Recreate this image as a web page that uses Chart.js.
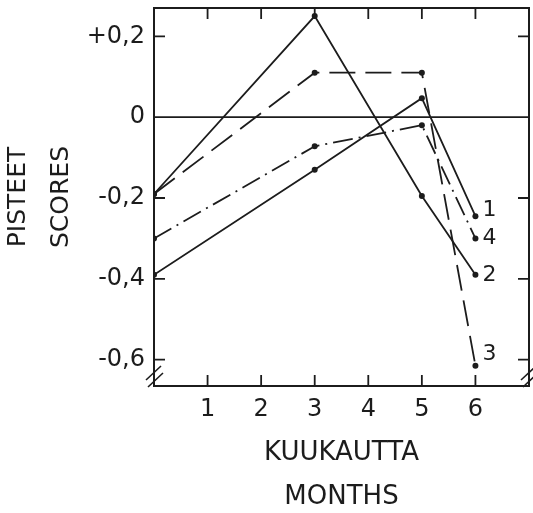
<!DOCTYPE html>
<html>
<head>
<meta charset="utf-8">
<script src="https://cdn.jsdelivr.net/npm/chart.js@4"></script>
<style>
  html, body { margin: 0; padding: 0; background: #fff; }
  #wrap { width: 533px; height: 513px; }
</style>
</head>
<body>
<div id="wrap"><canvas id="chart" width="533" height="513"></canvas></div>
<script>
// months measured
const months = [0, 3, 5, 6];
const series1 = [-0.39, -0.13, 0.047, -0.245];
const series2 = [-0.19, 0.25, -0.195, -0.39];
const series3 = [-0.19, 0.11, 0.11, -0.615];
const series4 = [-0.30, -0.072, -0.02, -0.30];
const seriesNames = ['1', '2', '3', '4'];

const xTicks = [1, 2, 3, 4, 5, 6];
const xTickLabels = ['1', '2', '3', '4', '5', '6'];
const yTicks = [-0.6, -0.4, -0.2, 0, 0.2];
const yTickLabels = ['-0,6', '-0,4', '-0,2', '0', '+0,2'];

const ink = '#1c1c1c';
const fontFamily = '"DejaVu Sans", sans-serif';

function toPoints(values) {
    return months.map((m, i) => ({ x: m, y: values[i] }));
}

function makeSet(label, values, dash) {
    return {
        label: label,
        data: toPoints(values),
        borderColor: ink,
        backgroundColor: ink,
        borderWidth: 1.8,
        borderDash: dash,
        pointRadius: 3,
        pointBorderWidth: 0,
        pointBackgroundColor: ink,
        tension: 0
    };
}

// frame, inward ticks, zero line, break marks, end labels
const decorations = {
    id: 'decorations',
    afterDatasetsDraw(chart) {
        const { ctx, chartArea: a, scales } = chart;
        const x = scales.x, y = scales.y;
        ctx.save();
        ctx.strokeStyle = ink;
        ctx.lineWidth = 2;
        ctx.strokeRect(a.left, a.top, a.right - a.left, a.bottom - a.top);

        // zero line
        ctx.lineWidth = 1.8;
        const y0 = y.getPixelForValue(0);
        ctx.beginPath();
        ctx.moveTo(a.left, y0);
        ctx.lineTo(a.right, y0);
        ctx.stroke();

        const tl = 11;
        ctx.beginPath();
        xTicks.forEach((v) => {
            const px = x.getPixelForValue(v);
            ctx.moveTo(px, a.bottom);
            ctx.lineTo(px, a.bottom - tl);
            ctx.moveTo(px, a.top);
            ctx.lineTo(px, a.top + tl);
        });
        yTicks.forEach((v) => {
            if (v === 0) return;
            const py = y.getPixelForValue(v);
            ctx.moveTo(a.left, py);
            ctx.lineTo(a.left + tl, py);
            ctx.moveTo(a.right, py);
            ctx.lineTo(a.right - tl, py);
        });
        ctx.stroke();

        // axis break marks
        ctx.lineWidth = 1.6;
        [a.left, a.right].forEach((cx) => {
            ctx.beginPath();
            ctx.moveTo(cx - 8, a.bottom - 6);
            ctx.lineTo(cx + 7, a.bottom - 20);
            ctx.moveTo(cx - 6, a.bottom + 1);
            ctx.lineTo(cx + 9, a.bottom - 13);
            ctx.stroke();
        });

        // series labels at the last point
        const offsets = [-6, 0, -12, 0];
        ctx.fillStyle = ink;
        ctx.font = '22px ' + fontFamily;
        ctx.textBaseline = 'middle';
        ctx.textAlign = 'left';
        chart.data.datasets.forEach((ds, i) => {
            const meta = chart.getDatasetMeta(i);
            const pt = meta.data[meta.data.length - 1];
            ctx.fillText(ds.label, pt.x + 7, pt.y + offsets[i]);
        });
        ctx.restore();
    }
};

new Chart(document.getElementById('chart'), {
    type: 'line',
    data: {
        datasets: [
            makeSet(seriesNames[0], series1, []),
            makeSet(seriesNames[1], series2, []),
            makeSet(seriesNames[2], series3, [26, 10]),
            makeSet(seriesNames[3], series4, [20, 6, 2, 6])
        ]
    },
    options: {
        responsive: false,
        animation: false,
        layout: { padding: { top: 8, right: 3, left: 0, bottom: 0 } },
        plugins: {
            legend: { display: false },
            tooltip: { enabled: false }
        },
        scales: {
            x: {
                type: 'linear',
                min: 0,
                max: 7,
                afterBuildTicks: (s) => { s.ticks = xTicks.map((v) => ({ value: v })); },
                afterFit: (s) => {
                    s.height = 127;
                    s.paddingLeft = 0;
                    s.paddingRight = 0;
                },
                grid: { display: false, drawTicks: false },
                border: { display: false },
                ticks: {
                    color: ink,
                    padding: 9,
                    maxRotation: 0,
                    font: { family: fontFamily, size: 24 },
                    callback: (v) => xTickLabels[xTicks.indexOf(v)]
                },
                title: {
                    display: true,
                    text: ['KUUKAUTTA', 'MONTHS'],
                    color: ink,
                    font: { family: fontFamily, size: 26, lineHeight: '44px' },
                    padding: { top: 0, bottom: -6 }
                }
            },
            y: {
                type: 'linear',
                min: -0.665,
                max: 0.27,
                afterBuildTicks: (s) => { s.ticks = yTicks.map((v) => ({ value: v })); },
                afterFit: (s) => {
                    s.width = 154;
                    s.paddingTop = 0;
                    s.paddingBottom = 0;
                },
                grid: { display: false, drawTicks: false },
                border: { display: false },
                ticks: {
                    color: ink,
                    padding: 9,
                    font: { family: fontFamily, size: 24 },
                    callback: (v) => yTickLabels[yTicks.indexOf(v)]
                },
                title: {
                    display: true,
                    text: ['PISTEET', 'SCORES'],
                    color: ink,
                    font: { family: fontFamily, size: 25, lineHeight: '43px' },
                    padding: { top: -3, bottom: 0 }
                }
            }
        }
    },
    plugins: [decorations]
});
</script>
</body>
</html>
